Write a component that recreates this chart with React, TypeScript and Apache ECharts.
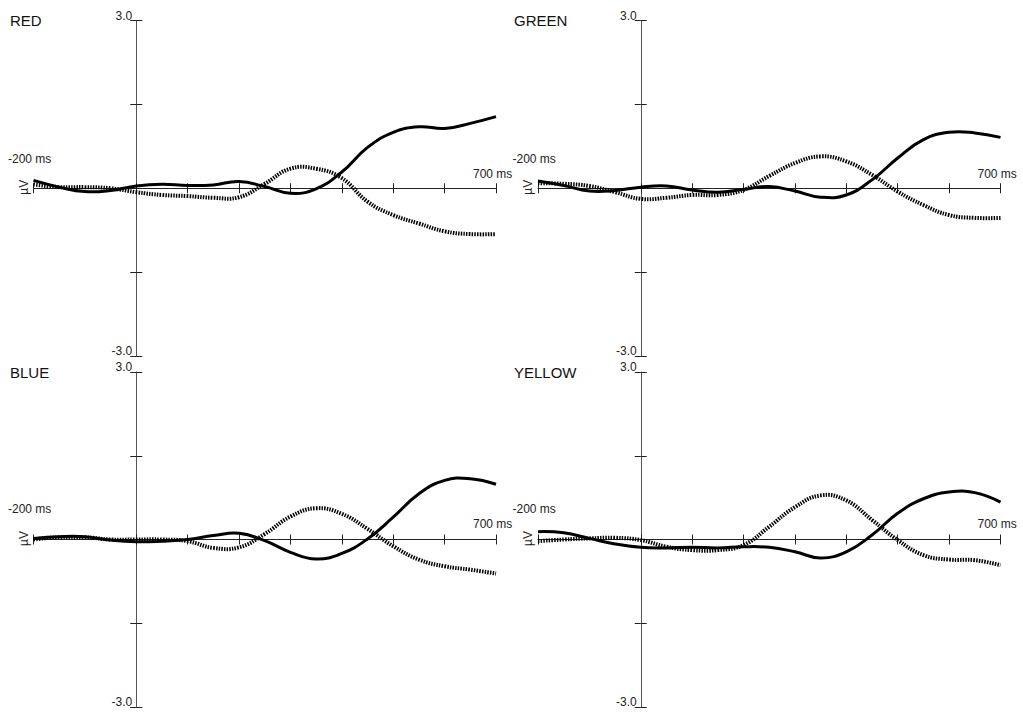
import React, { useEffect, useRef } from "react";
import * as echarts from "echarts";

const times = [-200, -150, -100, -50, 0, 50, 100, 150, 200, 250, 300, 350, 400, 450, 500, 550, 600, 650, 700];
const xTickValues = [-200, 0, 100, 200, 300, 400, 500, 600, 700];
const yLabelValues = [3, -3];
const panelNames = ["RED", "GREEN", "BLUE", "YELLOW"];

const redSolid = [0.14, 0.02, -0.06, -0.04, 0.04, 0.07, 0.05, 0.06, 0.12, 0.03, -0.09, -0.01, 0.29, 0.73, 1.0, 1.1, 1.07, 1.16, 1.28];
const redDotted = [0.07, 0.02, 0.02, 0.0, -0.07, -0.12, -0.14, -0.17, -0.16, 0.08, 0.35, 0.35, 0.18, -0.24, -0.48, -0.63, -0.77, -0.82, -0.82];
const greenSolid = [0.13, 0.05, -0.05, -0.04, 0.02, 0.04, -0.03, -0.07, -0.02, 0.03, -0.05, -0.16, -0.12, 0.15, 0.54, 0.87, 1.0, 0.99, 0.91];
const greenDotted = [0.09, 0.08, 0.04, -0.07, -0.19, -0.17, -0.12, -0.12, -0.03, 0.22, 0.45, 0.57, 0.48, 0.24, -0.06, -0.3, -0.48, -0.53, -0.53];
const blueSolid = [0.02, 0.05, 0.05, -0.01, -0.04, -0.03, 0.0, 0.07, 0.11, -0.02, -0.23, -0.35, -0.25, 0.01, 0.4, 0.82, 1.06, 1.09, 0.99];
const blueDotted = [0.0, 0.04, 0.04, 0.0, 0.0, 0.0, -0.03, -0.15, -0.14, 0.1, 0.41, 0.56, 0.46, 0.19, -0.12, -0.36, -0.48, -0.54, -0.61];
const yellowSolid = [0.14, 0.12, 0.02, -0.08, -0.14, -0.15, -0.14, -0.15, -0.13, -0.14, -0.22, -0.33, -0.22, 0.08, 0.47, 0.73, 0.85, 0.84, 0.67];
const yellowDotted = [-0.03, 0.0, 0.02, 0.03, -0.01, -0.13, -0.19, -0.19, -0.1, 0.23, 0.58, 0.79, 0.7, 0.35, -0.01, -0.28, -0.36, -0.37, -0.46];

const solidSets = [redSolid, greenSolid, blueSolid, yellowSolid];
const dottedSets = [redDotted, greenDotted, blueDotted, yellowDotted];

const FONT = "Arial, 'Liberation Sans', sans-serif";

function curveSeries(i: number, values: number[], dotted: boolean) {
  return {
    type: "custom",
    xAxisIndex: 2 * i,
    yAxisIndex: 2 * i,
    data: times.map((t, k) => [t, values[k]]),
    encode: { x: 0, y: 1 },
    z: dotted ? 3 : 4,
    clip: false,
    renderItem: (params: any, api: any) => {
      if (params.dataIndexInside !== 0) return null;
      const pts: number[][] = [];
      for (let k = 0; k < params.dataInsideLength; k++) {
        pts.push(api.coord([api.value(0, k), api.value(1, k)]));
      }
      return {
        type: "polyline",
        shape: { points: pts, smooth: 0.45 },
        style: dotted
          ? { stroke: "#000", lineWidth: 4, lineDash: [1.5, 1.2], fill: null }
          : { stroke: "#000", lineWidth: 3, fill: null },
      };
    },
  };
}

export default function App() {
  const ref = useRef<HTMLDivElement>(null);

  useEffect(() => {
    if (!ref.current) return;
    const chart = echarts.init(ref.current, undefined, { renderer: "svg" });

    const grids = [
      { left: 33.5, top: 20.5, width: 462.5, height: 335.5 },
      { left: 538, top: 20.5, width: 462.5, height: 335.5 },
      { left: 33.5, top: 372, width: 462.5, height: 335 },
      { left: 538, top: 372, width: 462.5, height: 335 },
    ];

    const xAxes: any[] = [];
    const yAxes: any[] = [];
    const series: any[] = [];
    const graphics: any[] = [];

    grids.forEach((g, i) => {
      const baseX = {
        type: "value",
        gridIndex: i,
        min: -200,
        max: 700,
        interval: 100,
        splitLine: { show: false },
        axisLabel: { show: false },
      };
      xAxes.push({
        ...baseX,
        position: "bottom",
        axisLine: { show: true, onZero: true, lineStyle: { color: "#222", width: 1 } },
        axisTick: { show: true, customValues: xTickValues, length: 5, inside: false, lineStyle: { color: "#222", width: 1 } },
      });
      xAxes.push({
        ...baseX,
        position: "top",
        axisLine: { show: true, onZero: true, lineStyle: { color: "rgba(0,0,0,0)", width: 1 } },
        axisTick: { show: true, customValues: xTickValues, length: 5, inside: false, lineStyle: { color: "#222", width: 1 } },
      });
      const baseY = {
        type: "value",
        gridIndex: i,
        min: -3,
        max: 3,
        interval: 1.5,
        splitLine: { show: false },
        axisLabel: { show: false },
      };
      yAxes.push({
        ...baseY,
        position: "left",
        axisLine: { show: true, onZero: true, lineStyle: { color: "#555", width: 1 } },
        axisTick: { show: true, length: 6, inside: false, lineStyle: { color: "#222", width: 1 } },
      });
      yAxes.push({
        ...baseY,
        position: "right",
        axisLine: { show: true, onZero: true, lineStyle: { color: "rgba(0,0,0,0)", width: 1 } },
        axisTick: { show: true, length: 6, inside: false, lineStyle: { color: "#222", width: 1 } },
      });

      series.push(curveSeries(i, dottedSets[i], true));
      series.push(curveSeries(i, solidSets[i], false));

      const isTop = i < 2;
      const zeroY = g.top + g.height / 2;
      const titleX = i % 2 === 0 ? 10 : 514;
      graphics.push({
        type: "text",
        x: titleX,
        y: g.top,
        style: { text: panelNames[i], fontSize: 15, fontFamily: FONT, fill: "#111", align: "left", verticalAlign: "middle" },
      });
      graphics.push({
        type: "text",
        x: g.left - 25.5,
        y: zeroY + (isTop ? -29 : -30.5),
        style: { text: "-200 ms", fontSize: 12, fontFamily: FONT, fill: "#222", align: "left", verticalAlign: "middle" },
      });
      graphics.push({
        type: "text",
        x: g.left + g.width - 23,
        y: zeroY + (isTop ? -14 : -15.5),
        style: { text: "700 ms", fontSize: 12, fontFamily: FONT, fill: "#222", align: "left", verticalAlign: "middle" },
      });
      graphics.push({
        type: "text",
        x: g.left - 10,
        y: zeroY - 1,
        rotation: Math.PI / 2,
        style: { text: "µV", fontSize: 12, fontFamily: FONT, fill: "#222", align: "center", verticalAlign: "middle" },
      });
    });

    chart.setOption({
      animation: false,
      backgroundColor: "#fff",
      grid: grids.map((g) => ({ ...g, containLabel: false })),
      xAxis: xAxes,
      yAxis: yAxes,
      series,
      graphic: graphics,
    });

    // y tick labels (3.0 / -3.0) positioned through the axis scales
    const labelGraphics: any[] = [...graphics];
    grids.forEach((_g, i) => {
      yLabelValues.forEach((v) => {
        const p = chart.convertToPixel({ xAxisIndex: 2 * i, yAxisIndex: 2 * i }, [0, v]) as number[];
        labelGraphics.push({
          type: "text",
          x: p[0] - 4,
          y: p[1] + 1,
          style: { text: v.toFixed(1), fontSize: 12, fontFamily: FONT, fill: "#222", align: "right", verticalAlign: "bottom" },
        });
      });
    });
    chart.setOption({ graphic: labelGraphics });

    return () => chart.dispose();
  }, []);

  return <div ref={ref} style={{ position: "absolute", left: 0, top: 0, width: 1023, height: 712 }} />;
}
